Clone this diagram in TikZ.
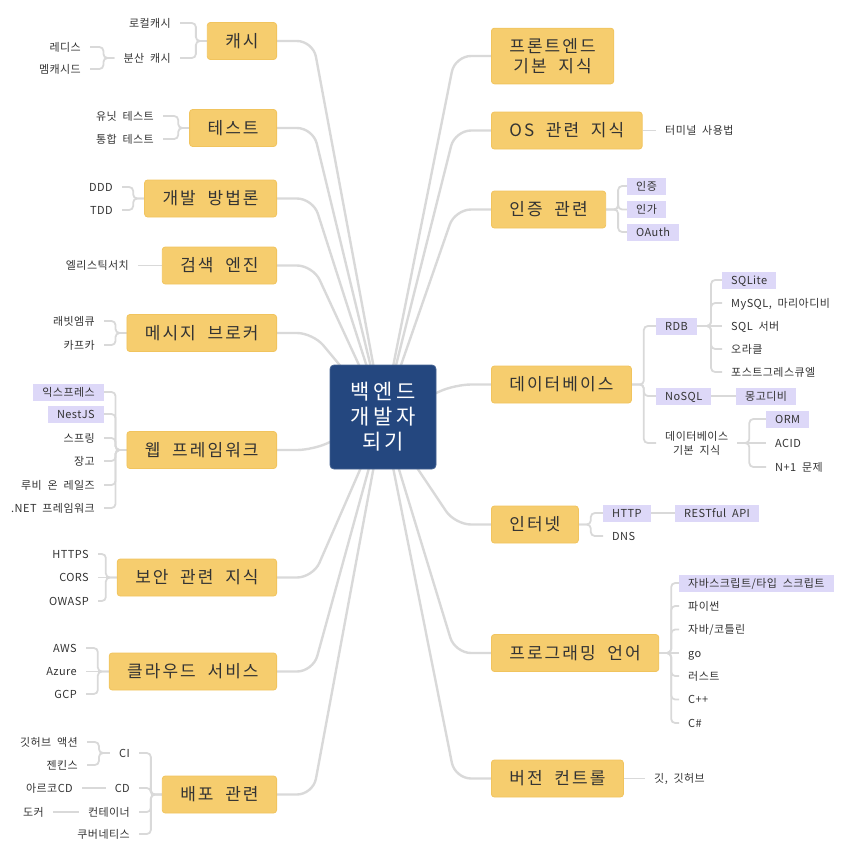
\documentclass[tikz,border=0pt]{standalone}
\usepackage{fontspec}
\setmainfont{Noto Sans CJK KR}[WordSpace=2]
\usetikzlibrary{backgrounds}
\definecolor{topicfill}{HTML}{F6CD6E}
\definecolor{topicline}{HTML}{F1C45E}
\definecolor{hubfill}{HTML}{24477F}
\definecolor{markfill}{HTML}{DDD8F8}
\definecolor{wire}{HTML}{D9D9D9}
\definecolor{ink}{HTML}{333333}
\tikzset{
  topicbox/.style={draw=topicline,fill=topicfill,line width=0.8pt,rounded corners=3pt,
    font=\fontsize{17}{20}\selectfont\addfontfeatures{LetterSpace=12},text=ink,align=center,
    inner xsep=18pt,inner ysep=10pt,minimum height=37pt,text height=14.3pt,text depth=1.4pt},
  hubbox/.style={draw=hubfill!85!white,fill=hubfill,line width=0.8pt,rounded corners=4pt,
    font=\fontsize{21}{25}\selectfont\addfontfeatures{LetterSpace=16},text=white,align=center,
    minimum width=106pt,minimum height=104pt,text height=67.6pt,text depth=1.7pt},
  leafbox/.style={font=\fontsize{11}{14}\selectfont\addfontfeatures{LetterSpace=4},text=ink,
    align=center,inner xsep=9pt,inner ysep=0pt,minimum height=17pt,text height=9.2pt,text depth=0.9pt},
  markbox/.style={leafbox,fill=markfill},
  trunk/.style={draw=wire,line width=2.4pt,rounded corners=16pt},
  twig/.style={draw=wire,line width=1.8pt,rounded corners=4pt},
}
\begin{document}
\begin{tikzpicture}[x=1pt,y=-1pt]
\useasboundingbox (0,0) rectangle (854,849);
\node[hubbox] (hub) at (383,417) {백엔드\\개발자\\되기};
\foreach \n/\t/\y in {cache/캐시/41,test/테스트/128,method/개발 방법론/198.5,search/검색 엔진/265.5,
  mq/메시지 브로커/333,web/웹 프레임워크/450,sec/보안 관련 지식/577.5,cloud/클라우드 서비스/671.5,deploy/배포 관련/794.5}
  \node[topicbox,anchor=east] (\n) at (277,\y) {\t};
\node[topicbox,anchor=west,text height=34.3pt] (fe) at (491,56) {프론트엔드\\기본 지식};
\foreach \n/\t/\y in {os/OS 관련 지식/130.5,auth/인증 관련/209.5,db/데이터베이스/384.5,
  net/인터넷/524.5,lang/프로그래밍 언어/653,vcs/버전 컨트롤/778.5}
  \node[topicbox,anchor=west] (\n) at (491,\y) {\t};
\foreach \t/\y [count=\i] in {로컬캐시/23,분산 캐시/58}
  \node[leafbox,anchor=east] (cache-\i) at (180,\y) {\t};
\foreach \t/\y [count=\i] in {레디스/47,멤캐시드/69}
  \node[leafbox,anchor=east] (cache-2-\i) at (90,\y) {\t};
\foreach \t/\y [count=\i] in {유닛 테스트/116,통합 테스트/139}
  \node[leafbox,anchor=east] (test-\i) at (163,\y) {\t};
\foreach \t/\y [count=\i] in {DDD/187,TDD/210}
  \node[leafbox,anchor=east] (method-\i) at (122,\y) {\t};
\node[leafbox,anchor=east] (search-1) at (138,265.5) {엘리스틱서치};
\foreach \t/\y [count=\i] in {래빗엠큐/321,카프카/345}
  \node[leafbox,anchor=east] (mq-\i) at (104,\y) {\t};
\foreach \s/\t/\y [count=\i] in {markbox/익스프레스/392,markbox/NestJS/414,leafbox/스프링/438,
  leafbox/장고/461,leafbox/루비 온 레일즈/485,leafbox/.NET 프레임워크/508}
  \node[\s,anchor=east] (web-\i) at (104,\y) {\t};
\foreach \t/\y [count=\i] in {HTTPS/554,CORS/577.5,OWASP/601}
  \node[leafbox,anchor=east] (sec-\i) at (98,\y) {\t};
\foreach \t/\y [count=\i] in {AWS/648,Azure/671.5,GCP/694}
  \node[leafbox,anchor=east] (cloud-\i) at (86,\y) {\t};
\foreach \t/\y [count=\i] in {CI/753,CD/788,컨테이너/812,쿠버네티스/834}
  \node[leafbox,anchor=east] (deploy-\i) at (139,\y) {\t};
\foreach \t/\y [count=\i] in {깃허브 액션/742,젠킨스/765}
  \node[leafbox,anchor=east] (deploy-1-\i) at (87,\y) {\t};
\node[leafbox,anchor=east] (deploy-2-1) at (82,788) {아르코CD};
\node[leafbox,anchor=east] (deploy-3-1) at (53,812) {도커};
\node[leafbox,anchor=west] (os-1) at (656,130.5) {터미널 사용법};
\foreach \t/\y [count=\i] in {인증/186,인가/209.5,OAuth/232}
  \node[markbox,anchor=west] (auth-\i) at (627,\y) {\t};
\node[markbox,anchor=west] (db-1) at (656,326) {RDB};
\node[markbox,anchor=west] (db-2) at (656,396) {NoSQL};
\node[leafbox,anchor=west,text height=23.2pt] (db-3) at (656,443) {데이터베이스\\기본 지식};
\foreach \s/\t/\y [count=\i] in {markbox/SQLite/280,leafbox/{MySQL, 마리아디비}/303,leafbox/SQL 서버/326,
  leafbox/오라클/349,leafbox/포스트그레스큐엘/372}
  \node[\s,anchor=west] (db-1-\i) at (722,\y) {\t};
\node[markbox,anchor=west] (db-2-1) at (736,396) {몽고디비};
\foreach \s/\t/\y [count=\i] in {markbox/ORM/419,leafbox/ACID/443,leafbox/N+1 문제/467}
  \node[\s,anchor=west] (db-3-\i) at (766,\y) {\t};
\node[markbox,anchor=west] (net-1) at (603,513) {HTTP};
\node[leafbox,anchor=west] (net-2) at (603,536) {DNS};
\node[markbox,anchor=west] (net-1-1) at (675,513) {RESTful API};
\foreach \s/\t/\y [count=\i] in {markbox/{자바스크립트/타입 스크립트}/583,leafbox/파이썬/606,leafbox/{자바/코틀린}/629.5,
  leafbox/go/653,leafbox/러스트/676,leafbox/C++/699.5,leafbox/C\#/723}
  \node[\s,anchor=west] (lang-\i) at (679,\y) {\t};
\node[leafbox,anchor=west] (vcs-1) at (645,778.5) {깃, 깃허브};
\begin{scope}[on background layer]
\foreach \n in {cache,test,method,search,mq,web,sec,cloud,deploy}
  \draw[trunk] (\n.east) -- ++(36,0) -- (hub.center);
\foreach \n in {fe,os,auth,db,net,lang,vcs}
  \draw[trunk] (\n.west) -- ++(-36,0) -- (hub.center);
\foreach \p/\k in {cache/2,cache-2/2,test/2,method/2,mq/2,web/6,deploy/4,deploy-1/2}
  \foreach \i in {1,...,\k}
    \draw[twig] (\p.west) -- ++(-11,0) |- (\p-\i.east);
\foreach \p in {sec,cloud}
  \foreach \i in {1,3}
    \draw[twig] (\p.west) -- ++(-11,0) |- (\p-\i.east);
\foreach \p in {sec,cloud}
  \draw[twig] (\p.west) -- (\p-2.east);
\foreach \a/\b in {search/search-1,deploy-2/deploy-2-1,deploy-3/deploy-3-1}
  \draw[twig] (\a.west) -- (\b.east);
\foreach \p/\k in {auth/3,db/3,net/2}
  \foreach \i in {1,...,\k}
    \draw[twig] (\p.east) -- ++(12,0) |- (\p-\i.west);
\foreach \i in {1,2,4,5}
  \draw[twig] (db-1.east) -- ++(14,0) |- (db-1-\i.west);
\foreach \i in {1,3}
  \draw[twig] (db-3.east) -- ++(12,0) |- (db-3-\i.west);
\foreach \i in {1,2,3,5,6,7}
  \draw[twig] (lang.east) -- ++(12,0) |- (lang-\i.west);
\foreach \a/\b in {os/os-1,db-1/db-1-3,db-2/db-2-1,db-3/db-3-2,net-1/net-1-1,lang/lang-4,vcs/vcs-1}
  \draw[twig] (\a.east) -- (\b.west);
\end{scope}
\end{tikzpicture}
\end{document}
